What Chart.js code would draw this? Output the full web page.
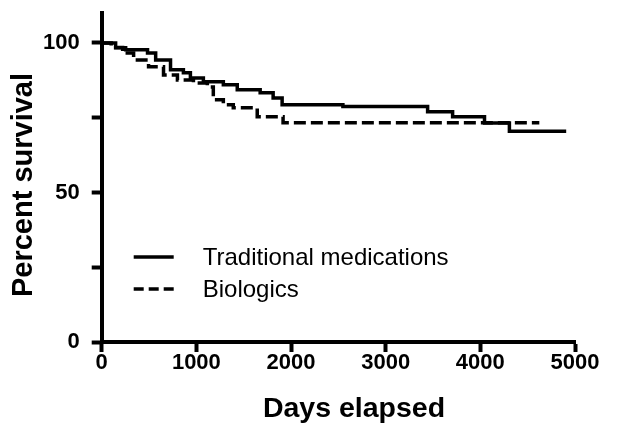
<!DOCTYPE html>
<html>
<head>
<meta charset="utf-8">
<script src="https://cdn.jsdelivr.net/npm/chart.js@4"></script>
<style>
  html, body { margin: 0; padding: 0; background: #fff; }
  #wrap { width: 623px; height: 425px; }
</style>
</head>
<body>
<div id="wrap"><canvas id="km"></canvas></div>
<script>
// Kaplan-Meier curves (days, percent surviving)
const tradDays = [0, 147, 253, 484, 570, 727, 863, 937, 1074, 1285, 1432, 1674, 1811, 1906, 2548, 3443, 3707, 4044, 4307, 4907]
const tradSurv = [100, 98.4, 97.7, 96.6, 94.3, 91, 90, 88.3, 87, 86, 84.3, 83.3, 81.6, 79.3, 78.7, 77, 75.3, 73.2, 70.5, 70.5]

const bioDays = [0, 100, 221, 337, 495, 653, 800, 969, 1116, 1179, 1285, 1390, 1643, 1916, 4623]
const bioSurv = [100, 98.5, 96.6, 94.3, 92, 89.3, 87.6, 86.6, 85.3, 81, 79.3, 78.3, 75.3, 73.3, 73.3]

const seriesNames = ['Traditional medications', 'Biologics']
const xTicks = [0, 1000, 2000, 3000, 4000, 5000]
const yLabelled = [0, 50, 100]
const xTitle = 'Days elapsed'
const yTitle = 'Percent survival'

const FONT = '"Liberation Sans", Arial, sans-serif'

function toPoints(xs, ys) {
  return xs.map((x, i) => ({ x: x, y: ys[i] }))
}

// legend inside the plot + the two axis titles, placed like the original
const kmDecor = {
  id: 'kmDecor',
  afterDatasetsDraw(chart) {
    const c = chart.ctx
    const x0 = chart.chartArea.left + 32
    let y = 257
    c.save()
    chart.data.datasets.forEach(ds => {
      c.strokeStyle = '#000'
      c.lineWidth = 3.5
      c.setLineDash(ds.borderDash.length ? [10, 5] : [])
      c.beginPath()
      c.moveTo(x0, y)
      c.lineTo(x0 + 40, y)
      c.stroke()
      c.setLineDash([])
      c.fillStyle = '#000'
      c.font = '24px ' + FONT
      c.textBaseline = 'middle'
      c.textAlign = 'left'
      c.fillText(ds.label, x0 + 69, y + 1)
      y += 32
    })

    c.fillStyle = '#000'
    c.textAlign = 'center'
    c.textBaseline = 'middle'
    c.font = 'bold 28.5px ' + FONT
    c.fillText(xTitle, 354, 409)

    c.translate(24, 185)
    c.rotate(-Math.PI / 2)
    c.font = 'bold 29px ' + FONT
    c.fillText(yTitle, 0, 0)
    c.restore()
  }
}

const ctx = document.getElementById('km').getContext('2d')
new Chart(ctx, {
  type: 'scatter',
  data: {
    datasets: [{
      label: seriesNames[0],
      data: toPoints(tradDays, tradSurv),
      showLine: true,
      stepped: 'before',
      borderColor: '#000',
      borderWidth: 3.5,
      borderDash: [],
      pointRadius: 0
    }, {
      label: seriesNames[1],
      data: toPoints(bioDays, bioSurv),
      showLine: true,
      stepped: 'before',
      borderColor: '#000',
      borderWidth: 3.5,
      borderDash: [12, 5],
      pointRadius: 0
    }]
  },
  options: {
    responsive: true,
    maintainAspectRatio: false,
    animation: false,
    layout: { padding: { left: 31, right: 48, top: 13, bottom: 51 } },
    plugins: {
      legend: { display: false },
      tooltip: { enabled: false }
    },
    scales: {
      x: {
        type: 'linear',
        min: 0,
        max: 5000,
        afterBuildTicks: axis => { axis.ticks = xTicks.map(v => ({ value: v })) },
        border: { display: true, color: '#000', width: 4 },
        grid: { drawOnChartArea: false, drawTicks: true, tickLength: 10, tickWidth: 4, color: '#000' },
        ticks: {
          color: '#000',
          padding: 0,
          maxRotation: 0,
          font: { family: FONT, size: 22, weight: 'bold', lineHeight: 1 },
          callback: v => String(v)
        }
      },
      y: {
        min: 0,
        max: 110,
        afterFit: axis => { axis.paddingTop = 0 },
        ticks: {
          stepSize: 25,
          includeBounds: false,
          color: '#000',
          padding: 12,
          font: { family: FONT, size: 22, weight: 'bold' },
          callback: v => yLabelled.includes(v) ? String(v) : ''
        },
        border: { display: true, color: '#000', width: 4 },
        grid: { drawOnChartArea: false, drawTicks: true, tickLength: 10, tickWidth: 4, color: '#000' }
      }
    }
  },
  plugins: [kmDecor]
})
</script>
</body>
</html>
